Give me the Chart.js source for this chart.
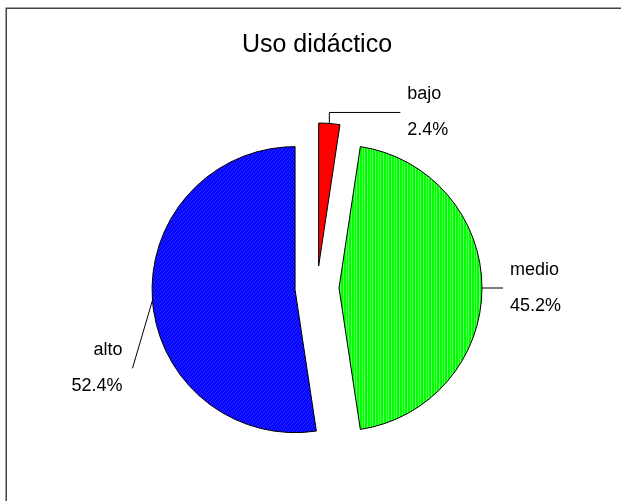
<!DOCTYPE html>
<html><head><meta charset="utf-8">
<script src="https://cdn.jsdelivr.net/npm/chart.js@4/dist/chart.umd.min.js"></script>
<style>html,body{margin:0;padding:0;background:#fff}#c{display:block}</style>
</head><body>
<canvas id="c" width="621" height="501"></canvas>
<script>
// ---- data ----
const chartTitle = 'Uso didáctico';
const categories = ['bajo', 'medio', 'alto'];
const counts = [1, 19, 22];
const sliceColors = ['#ff0000', '#00ff00', '#0000ff'];

// ---- helpers ----
function stripePattern(base, light, cols, w) {
  const c = document.createElement('canvas');
  c.width = w; c.height = 4;
  const g = c.getContext('2d');
  g.fillStyle = base; g.fillRect(0, 0, w, 4);
  g.fillStyle = light;
  cols.forEach(x => g.fillRect(x, 0, 1, 4));
  return g.createPattern(c, 'repeat');
}
function dotPattern(base, light) {
  const c = document.createElement('canvas');
  c.width = 4; c.height = 4;
  const g = c.getContext('2d');
  g.fillStyle = base; g.fillRect(0, 0, 4, 4);
  g.fillStyle = light;
  g.fillRect(0, 0, 1, 1); g.fillRect(2, 1, 1, 1); g.fillRect(1, 2, 1, 1); g.fillRect(3, 3, 1, 1);
  return g.createPattern(c, 'repeat');
}
const total = counts.reduce((a, b) => a + b, 0);
const pctText = v => (v / total * 100).toFixed(1) + '%';

const fills = [
  sliceColors[0],
  stripePattern(sliceColors[1], '#5cff5c', [1, 4, 6, 9, 12, 14], 16),
  dotPattern(sliceColors[2], '#3c3cff')
];

// ---- plugins ----
const framePlugin = {
  id: 'frame',
  beforeDraw(chart) {
    const ctx = chart.ctx;
    ctx.save();
    ctx.fillStyle = '#fff';
    ctx.fillRect(0, 0, chart.width, chart.height);
    ctx.strokeStyle = '#444';
    ctx.lineWidth = 1.5;
    ctx.beginPath();
    ctx.moveTo(6.25, chart.height);
    ctx.lineTo(6.25, 8.25);
    ctx.lineTo(chart.width, 8.25);
    ctx.stroke();
    ctx.restore();
  }
};

const explodePlugin = {
  id: 'explode',
  beforeDatasetDraw(chart, args, opts) {
    const ctx = chart.ctx;
    args.meta.data.forEach(arc => {
      const mid = (arc.startAngle + arc.endAngle) / 2;
      ctx.save();
      ctx.translate(Math.cos(mid) * opts.distance, Math.sin(mid) * opts.distance);
      arc.draw(ctx, chart.chartArea);
      ctx.restore();
    });
    return false;
  }
};

const labelPlugin = {
  id: 'sliceLabels',
  afterDatasetsDraw(chart, args, opts) {
    const ctx = chart.ctx;
    const meta = chart.getDatasetMeta(0);
    const d = chart.options.plugins.explode.distance;
    ctx.save();
    ctx.strokeStyle = '#000';
    ctx.lineWidth = 1;
    ctx.fillStyle = '#000';
    ctx.font = '18px "Liberation Sans", Arial, sans-serif';
    ctx.textBaseline = 'alphabetic';
    meta.data.forEach((arc, i) => {
      const mid = (arc.startAngle + arc.endAngle) / 2;
      const cx = arc.x + Math.cos(mid) * d, cy = arc.y + Math.sin(mid) * d;
      const px = cx + Math.cos(mid) * arc.outerRadius;
      const py = cy + Math.sin(mid) * arc.outerRadius;
      const L = opts.leaders[i];
      ctx.beginPath();
      ctx.moveTo(px, py);
      let ex = px, ey = py - L.rise;
      if (L.rise) ctx.lineTo(ex, ey);
      ex += L.dx; ey += L.dy;
      ctx.lineTo(ex, ey);
      ctx.stroke();
      const right = L.dx >= 0;
      ctx.textAlign = right ? 'left' : 'right';
      const tx = right ? ex + 7 : ex - 10;
      ctx.fillText(categories[i], tx, ey - 13);
      ctx.fillText(pctText(counts[i]), tx, ey + 23);
    });
    ctx.restore();
  }
};

new Chart(document.getElementById('c'), {
  type: 'pie',
  data: {
    labels: categories,
    datasets: [{
      data: counts,
      backgroundColor: fills,
      borderColor: '#000',
      borderWidth: 1,
      borderJoinStyle: 'miter'
    }]
  },
  options: {
    responsive: false,
    animation: false,
    radius: 143,
    layout: { padding: { left: 13, right: 0, top: 0, bottom: 0 } },
    plugins: {
      legend: { display: false },
      tooltip: { enabled: false },
      title: {
        display: true,
        text: chartTitle,
        color: '#000',
        font: { family: '"Liberation Sans", Arial, sans-serif', size: 25, weight: 'normal', lineHeight: 1.2 },
        padding: { top: 30, bottom: 15 }
      },
      explode: { distance: 22 },
      sliceLabels: {
        leaders: [
          { rise: 11, dx: 71, dy: 0 },
          { rise: 0, dx: 21, dy: 0 },
          { rise: 0, dx: -20, dy: 68 }
        ]
      }
    }
  },
  plugins: [framePlugin, explodePlugin, labelPlugin]
});
</script>
</body></html>
